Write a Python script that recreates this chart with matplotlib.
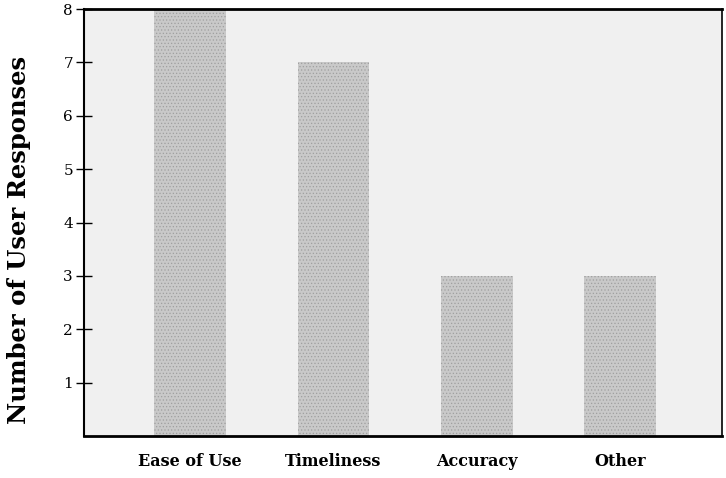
import matplotlib.pyplot as plt

categories = ['Ease of Use', 'Timeliness', 'Accuracy', 'Other']
responses = [8, 7, 3, 3]
y_ticks = [1, 2, 3, 4, 5, 6, 7, 8]

plt.rcParams['font.family'] = ['DejaVu Serif']
plt.rcParams['hatch.linewidth'] = 0.5

fig = plt.figure(figsize=(7.26, 4.78), dpi=100)
fig.patch.set_facecolor('white')
ax = fig.add_axes([0.1157, 0.088, 0.879, 0.893])
ax.set_facecolor('#f0f0f0')

x = range(len(categories))
ax.bar(x, responses, width=0.5, color='#c9c9c9', edgecolor='#a0a0a0',
       hatch='.....', linewidth=0)

ax.set_xlim(-0.74, 3.71)
ax.set_ylim(0, 8)

ax.set_yticks(y_ticks)
ax.set_yticklabels([str(t) for t in y_ticks], fontsize=11)
ax.tick_params(axis='y', direction='inout', length=12, width=1, pad=2)
ax.set_xticks(list(x))
ax.set_xticklabels(categories, fontsize=11.5, fontweight='bold')
ax.tick_params(axis='x', length=0, pad=12)

ax.spines['top'].set_linewidth(2)
ax.spines['bottom'].set_linewidth(2)
ax.spines['left'].set_linewidth(1.5)
ax.spines['right'].set_linewidth(1.2)

ax.set_ylabel('Number of User Responses', fontsize=17.5, fontweight='bold')
ax.yaxis.set_label_coords(-0.083, 0.46)

fig.savefig('out.png', dpi=100)
